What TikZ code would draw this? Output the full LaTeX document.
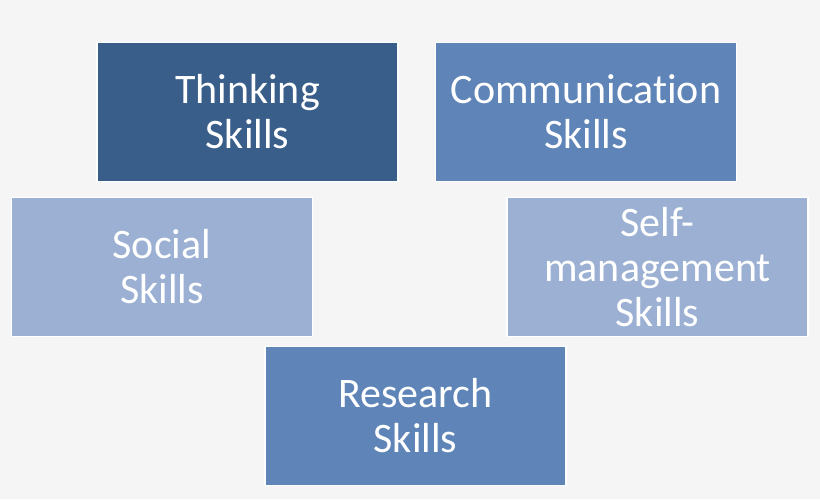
\documentclass[tikz,border=0pt]{standalone}
\usepackage{fontspec}
\setmainfont[Ligatures={NoCommon}]{Carlito}
\usepackage{tikz}
\definecolor{bgGray}{HTML}{F5F5F5}
\definecolor{darkBlue}{HTML}{395E8A}
\definecolor{midBlue}{HTML}{5F84B8}
\definecolor{lightBlue}{HTML}{9BB0D2}
\tikzstyle{skill} = [rectangle, minimum width=301pt, minimum height=139pt, inner sep=0pt,
text centered, align=center, draw=white, line width=1.5pt, text=white,
font=\fontsize{42}{45}\selectfont]
\tikzstyle{dark} = [skill, fill=darkBlue]
\tikzstyle{mid} = [skill, fill=midBlue]
\tikzstyle{light} = [skill, fill=lightBlue]

\begin{document}
\begin{tikzpicture}[x=1pt,y=1pt]
		%background
		\fill[bgGray](0,0) rectangle (820,499);
		\useasboundingbox (0,0) rectangle (820,499);
		%blocks
		\node[dark](think) at (247.5,387){Thinking\\Skills};
		\node[mid](comm) at (586,387){Communication\\Skills};
		\node[light](social) at (162,232){Social\\Skills};
		\node[light](selfman) at (657.5,232){Self-\\management\\Skills};
		\node[mid](research) at (415.5,83){Research\\Skills};
	\end{tikzpicture}
\end{document}
